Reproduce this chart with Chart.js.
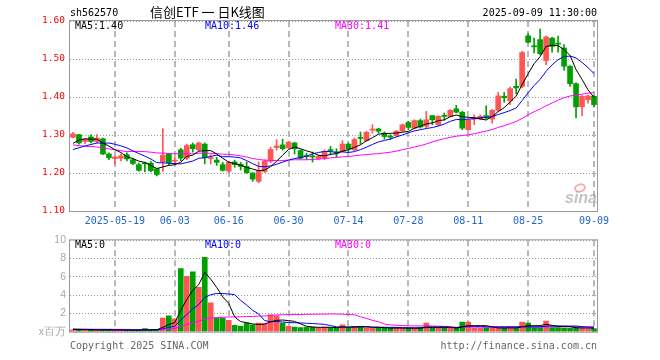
<!DOCTYPE html>
<html><head><meta charset="utf-8">
<script src="https://cdn.jsdelivr.net/npm/chart.js@4.4.1/dist/chart.umd.min.js"></script>
<style>
html,body{margin:0;padding:0;background:#fff;width:660px;height:360px;overflow:hidden;}
#wrap{position:relative;width:660px;height:360px;}
canvas{position:absolute;left:0;}
#c1{top:0;} #c2{top:230px;}
.t{position:absolute;white-space:nowrap;font-family:'DejaVu Sans Mono',monospace;font-size:10px;line-height:12px;color:#000;}
</style></head>
<body><div id="wrap">
<canvas id="c1" width="660" height="232"></canvas>
<canvas id="c2" width="660" height="112"></canvas>
<div class="t" style="left:70px;top:7px;">sh562570</div>
<div class="t" style="left:150px;top:4px;font-family:'Noto Sans CJK SC';font-size:13px;line-height:16px;">信创ETF 一 日K线图</div>
<div class="t" style="right:63px;top:7px;">2025-09-09 11:30:00</div>
<div class="t" style="left:70px;top:340px;color:#666;">Copyright 2025 SINA.COM</div>
<div class="t" style="right:63px;top:340px;color:#666;">http://finance.sina.com.cn</div>
</div>
<script>
const dates = ['2025-05-08','2025-05-09','2025-05-12','2025-05-13','2025-05-14','2025-05-15','2025-05-16','2025-05-19','2025-05-20','2025-05-21','2025-05-22','2025-05-23','2025-05-26','2025-05-27','2025-05-28','2025-05-29','2025-05-30',
'2025-06-03','2025-06-04','2025-06-05','2025-06-06','2025-06-09','2025-06-10','2025-06-11','2025-06-12','2025-06-13','2025-06-16','2025-06-17','2025-06-18','2025-06-19','2025-06-20','2025-06-23','2025-06-24','2025-06-25','2025-06-26','2025-06-27','2025-06-30',
'2025-07-01','2025-07-02','2025-07-03','2025-07-04','2025-07-07','2025-07-08','2025-07-09','2025-07-10','2025-07-11','2025-07-14','2025-07-15','2025-07-16','2025-07-17','2025-07-18','2025-07-21','2025-07-22','2025-07-23','2025-07-24','2025-07-25','2025-07-28','2025-07-29','2025-07-30','2025-07-31',
'2025-08-01','2025-08-04','2025-08-05','2025-08-06','2025-08-07','2025-08-08','2025-08-11','2025-08-12','2025-08-13','2025-08-14','2025-08-15','2025-08-18','2025-08-19','2025-08-20','2025-08-21','2025-08-22','2025-08-25','2025-08-26','2025-08-27','2025-08-28','2025-08-29',
'2025-09-01','2025-09-02','2025-09-03','2025-09-04','2025-09-05','2025-09-08','2025-09-09'];

const opens = [1.294,1.301,1.283,1.295,1.283,1.290,1.250,1.238,1.239,1.248,
1.235,1.222,1.226,1.226,1.211,1.230,1.250,1.231,1.261,1.239,
1.2745,1.261,1.276,1.238,1.234,1.222,1.205,1.229,1.223,1.217,
1.200,1.178,1.204,1.231,1.267,1.274,1.266,1.279,1.259,1.246,
1.245,1.238,1.239,1.261,1.255,1.257,1.276,1.261,1.294,1.285,
1.313,1.316,1.305,1.297,1.298,1.311,1.333,1.318,1.338,1.323,
1.351,1.327,1.352,1.349,1.369,1.360,1.314,1.342,1.342,1.351,
1.342,1.365,1.402,1.390,1.428,1.428,1.561,1.535,1.551,1.496,
1.555,1.542,1.529,1.481,1.435,1.374,1.393,1.402];

const highs = [1.307,1.302,1.290,1.301,1.301,1.292,1.253,1.244,1.250,1.253,
1.239,1.226,1.229,1.230,1.213,1.317,1.252,1.241,1.265,1.276,
1.279,1.281,1.279,1.248,1.241,1.228,1.231,1.234,1.228,1.229,
1.201,1.229,1.235,1.268,1.288,1.289,1.283,1.281,1.261,1.252,
1.255,1.248,1.261,1.270,1.264,1.285,1.279,1.292,1.308,1.310,
1.327,1.318,1.308,1.301,1.312,1.329,1.336,1.340,1.342,1.362,
1.351,1.351,1.358,1.367,1.378,1.362,1.342,1.353,1.353,1.377,
1.367,1.412,1.412,1.426,1.447,1.520,1.567,1.555,1.579,1.560,
1.557,1.560,1.538,1.483,1.437,1.404,1.405,1.404];

const lows = [1.292,1.276,1.277,1.279,1.279,1.248,1.235,1.224,1.232,1.232,
1.222,1.205,1.203,1.203,1.192,1.204,1.221,1.222,1.232,1.235,
1.255,1.258,1.224,1.224,1.220,1.205,1.202,1.215,1.208,1.199,
1.178,1.174,1.201,1.227,1.260,1.260,1.264,1.250,1.237,1.235,
1.229,1.235,1.235,1.248,1.241,1.255,1.257,1.259,1.276,1.283,
1.305,1.305,1.289,1.288,1.296,1.309,1.314,1.316,1.318,1.318,
1.327,1.324,1.339,1.347,1.358,1.314,1.312,1.327,1.340,1.342,
1.331,1.362,1.386,1.380,1.409,1.424,1.542,1.516,1.511,1.485,
1.518,1.518,1.470,1.428,1.345,1.351,1.384,1.374];

const closes = [1.303,1.279,1.289,1.283,1.292,1.250,1.240,1.242,1.245,1.237,
1.225,1.207,1.224,1.206,1.196,1.247,1.227,1.233,1.239,1.272,
1.264,1.279,1.240,1.240,1.228,1.207,1.228,1.222,1.217,1.201,
1.184,1.206,1.231,1.262,1.271,1.264,1.281,1.264,1.239,1.243,
1.242,1.244,1.257,1.259,1.252,1.276,1.263,1.288,1.291,1.307,
1.315,1.310,1.296,1.294,1.310,1.327,1.320,1.338,1.321,1.340,
1.340,1.349,1.349,1.365,1.360,1.318,1.340,1.345,1.349,1.345,
1.365,1.403,1.398,1.422,1.424,1.517,1.544,1.532,1.514,1.558,
1.533,1.539,1.481,1.435,1.374,1.402,1.403,1.380];

// volume in millions (x百万)
const volumes = [0.20,0.18,0.22,0.15,0.18,0.25,0.20,0.15,0.18,0.15,
0.17,0.20,0.33,0.15,0.20,1.50,1.75,1.40,6.90,6.05,
6.55,4.85,8.15,3.15,1.50,1.45,1.25,0.70,0.60,0.95,
0.75,0.95,0.90,1.85,1.75,0.95,0.60,0.50,0.45,0.50,
0.50,0.45,0.50,0.45,0.40,0.75,0.45,0.60,0.60,0.40,
0.40,0.40,0.40,0.40,0.40,0.35,0.40,0.40,0.45,0.95,
0.40,0.40,0.40,0.40,0.40,1.05,1.05,0.40,0.40,0.40,
0.40,0.45,0.40,0.45,0.40,1.05,0.95,0.45,0.45,1.15,
0.45,0.45,0.40,0.40,0.45,0.40,0.30,0.35];

// estimated values of the 29 sessions before the window (needed for the moving averages)
const priorCloses = [1.335,1.330,1.318,1.322,1.328,1.315,1.310,1.318,1.314,1.200,
1.215,1.240,1.250,1.255,1.262,1.258,1.250,1.245,1.262,1.271,
1.236,1.240,1.245,1.252,1.257,1.234,1.274,1.288,1.291];
const priorVolumes = [0.30,0.28,0.26,0.25,0.27,0.31,0.29,0.26,0.28,0.45,
0.35,0.30,0.28,0.26,0.25,0.27,0.24,0.26,0.28,0.25,
0.27,0.26,0.28,0.25,0.29,0.27,0.30,0.28,0.26];

const xTickDates = ['2025-05-19','2025-06-03','2025-06-16','2025-06-30','2025-07-14','2025-07-28','2025-08-11','2025-08-25','2025-09-09'];
const xTickLabels = ['2025-05-19','06-03','06-16','06-30','07-14','07-28','08-11','08-25','09-09'];
const priceTicks = [1.10,1.20,1.30,1.40,1.50,1.60];
const volumeTicks = [0,2,4,6,8,10];

const UP = '#ff5555', DOWN = '#00a000';
const MA_COLORS = {5:'#000000',10:'#0000ff',30:'#ff00ff'};

function movingAvg(prior, series, n) {
  const all = prior.concat(series);
  const off = prior.length;
  return series.map((_, i) => {
    let s = 0;
    for (let k = i + off - n + 1; k <= i + off; k++) s += all[k];
    return s / n;
  });
}
const ma5 = movingAvg(priorCloses, closes, 5);
const ma10 = movingAvg(priorCloses, closes, 10);
const ma30 = movingAvg(priorCloses, closes, 30);
const vma5 = movingAvg(priorVolumes, volumes, 5);
const vma10 = movingAvg(priorVolumes, volumes, 10);
const vma30 = movingAvg(priorVolumes, volumes, 30);

const colors = closes.map((c, i) => c >= opens[i] ? UP : DOWN);
const tickIndex = xTickDates.map(d => dates.indexOf(d));

function lineDs(label, data, color) {
  return {type:'line', label, data, borderColor:color, borderWidth:1, pointRadius:0, tension:0, fill:false, order:0};
}
function xScale(showLabels) {
  return {
    offset: true,
    afterBuildTicks: s => { s.ticks = tickIndex.map(v => ({value: v})); },
    afterFit: s => { s.height = showLabels ? 20 : 0; },
    grid: {offset:false, color:'#b8b8b8', lineWidth:2, drawTicks:false, borderDash:[6,4]},
    border: {display:false, dash:[6,4]},
    ticks: {display: showLabels, autoSkip:false, maxRotation:0, minRotation:0, padding:4,
      color:'#2266cc', font:{family:'DejaVu Sans Mono', size:10},
      callback: v => xTickLabels[tickIndex.indexOf(v)]}
  };
}

const frameAndLegend = (legends, mark) => ({
  id: 'frame' + mark,
  beforeDatasetsDraw(chart) {
    if (mark !== 'p') return;
    const ctx = chart.ctx;
    ctx.save();
    ctx.font = 'italic bold 16px "Liberation Sans"';
    ctx.fillStyle = 'rgba(170,170,170,0.7)';
    ctx.textBaseline = 'alphabetic';
    ctx.fillText('sina', 565, 203);
    ctx.strokeStyle = 'rgba(240,120,120,0.6)';
    ctx.lineWidth = 2;
    ctx.beginPath(); ctx.ellipse(580, 188, 5, 3.5, -0.3, 0, Math.PI * 2); ctx.stroke();
    ctx.restore();
  },
  afterDraw(chart) {
    const {ctx, chartArea: a} = chart;
    ctx.save();
    ctx.strokeStyle = '#999';
    ctx.lineWidth = 1;
    ctx.strokeRect(a.left - 0.5, a.top - 0.5, a.right - a.left + 1, a.bottom - a.top + 1);
    ctx.font = '10px "DejaVu Sans Mono"';
    ctx.textBaseline = 'middle';
    legends.forEach(l => { ctx.fillStyle = l.color; ctx.fillText(l.text, l.x, a.top + 5.5); });
    ctx.restore();
  }
});

const last = arr => arr[arr.length - 1];

new Chart(document.getElementById('c1'), {
  type: 'bar',
  data: {
    labels: dates,
    datasets: [
      lineDs('MA5', ma5, MA_COLORS[5]),
      lineDs('MA10', ma10, MA_COLORS[10]),
      lineDs('MA30', ma30, MA_COLORS[30]),
      {label:'body', data: opens.map((o, i) => [o, closes[i]]), backgroundColor: colors, barThickness:5, grouped:false, minBarLength:1, order:1},
      {label:'wick', data: lows.map((l, i) => [l, highs[i]]), backgroundColor: colors, barThickness:1, grouped:false, order:2}
    ]
  },
  options: {
    responsive:false, animation:false, events:[],
    layout:{padding:{left:0, right:63, top:21, bottom:1}},
    plugins:{legend:{display:false}, tooltip:{enabled:false}},
    scales:{
      x: xScale(true),
      y: {
        min: priceTicks[0], max: last(priceTicks),
        afterBuildTicks: s => { s.ticks = priceTicks.map(v => ({value: v})); },
        afterFit: s => { s.width = 70; },
        grid:{color:'#999', lineWidth:1, drawTicks:false, borderDash:[1,2]},
        border:{display:false, dash:[1,2]},
        ticks:{color:'#ff0000', padding:5, font:{family:'DejaVu Sans Mono', size:9.5}, callback: v => v.toFixed(2)}
      }
    }
  },
  plugins:[frameAndLegend([
    {text:'MA5:' + last(ma5).toFixed(2), x:75, color:MA_COLORS[5]},
    {text:'MA10:' + last(ma10).toFixed(2), x:205, color:MA_COLORS[10]},
    {text:'MA30:' + last(ma30).toFixed(2), x:335, color:MA_COLORS[30]}
  ], 'p')]
});

new Chart(document.getElementById('c2'), {
  type: 'bar',
  data: {
    labels: dates,
    datasets: [
      lineDs('MA5', vma5, MA_COLORS[5]),
      lineDs('MA10', vma10, MA_COLORS[10]),
      lineDs('MA30', vma30, MA_COLORS[30]),
      {label:'volume', data: volumes, backgroundColor: colors, barThickness:5, grouped:false, order:1}
    ]
  },
  options: {
    responsive:false, animation:false, events:[],
    layout:{padding:{left:0, right:63, top:10, bottom:2}},
    plugins:{legend:{display:false}, tooltip:{enabled:false}},
    scales:{
      x: xScale(false),
      y: {
        min: volumeTicks[0], max: last(volumeTicks),
        afterBuildTicks: s => { s.ticks = volumeTicks.map(v => ({value: v})); },
        afterFit: s => { s.width = 70; },
        grid:{color:'#999', lineWidth:1, drawTicks:false, borderDash:[1,2]},
        border:{display:false, dash:[1,2]},
        ticks:{color:'#a8a8a8', padding:4, font:{family:'Liberation Sans', size:10.5}, callback: v => v === 0 ? 'x百万' : String(v)}
      }
    }
  },
  plugins:[frameAndLegend([
    {text:'MA5:' + Math.floor(last(vma5)), x:75, color:MA_COLORS[5]},
    {text:'MA10:' + Math.floor(last(vma10)), x:205, color:MA_COLORS[10]},
    {text:'MA30:' + Math.floor(last(vma30)), x:335, color:MA_COLORS[30]}
  ], 'v')]
});
</script>
</body></html>
